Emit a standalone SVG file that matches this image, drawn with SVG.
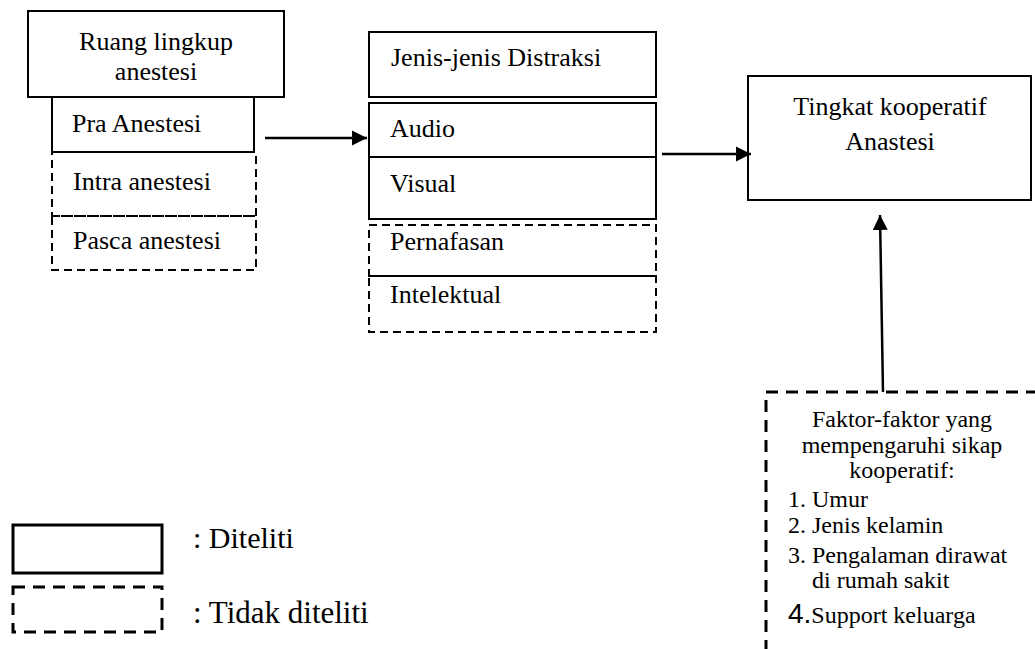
<svg xmlns="http://www.w3.org/2000/svg" width="1035" height="649" viewBox="0 0 1035 649">
<defs>
<style>
.t{font-family:"Liberation Serif","Times New Roman",serif;font-size:26px;fill:#000}
.s{font-family:"Liberation Serif","Times New Roman",serif;font-size:24px;fill:#000}
.solid{fill:#fff;stroke:#000;stroke-width:2}
.dash{fill:none;stroke:#000;stroke-width:2;stroke-dasharray:8 5}
.dash3{fill:none;stroke:#000;stroke-width:3;stroke-dasharray:12 8}
.conn{stroke:#000;stroke-width:2.5;fill:none}
</style>
<marker id="ah" markerWidth="16" markerHeight="16" refX="15" refY="8" orient="auto" markerUnits="userSpaceOnUse">
<path d="M0,0.5 L15,8 L0,15.5 Z" fill="#000"/>
</marker>
</defs>
<rect width="1035" height="649" fill="#fff"/>

<g id="ruang-lingkup">
<rect class="solid" x="28" y="11" width="256" height="86"/>
<text class="t" x="156" y="50" text-anchor="middle">Ruang lingkup</text>
<text class="t" x="156" y="80" text-anchor="middle">anestesi</text>
</g>
<g id="pra-anestesi">
<rect class="solid" x="52" y="97" width="202" height="55"/>
<text class="t" x="72" y="132">Pra Anestesi</text>
</g>
<g id="intra-anestesi">
<rect class="dash" x="52" y="152" width="204" height="64"/>
<text class="t" x="73" y="190">Intra anestesi</text>
</g>
<g id="pasca-anestesi">
<rect class="dash" x="52" y="216" width="204" height="54"/>
<text class="t" x="73" y="249">Pasca anestesi</text>
</g>

<g id="jenis-distraksi">
<rect class="solid" x="369" y="32" width="287" height="65"/>
<text class="t" x="391" y="66">Jenis-jenis Distraksi</text>
</g>
<g id="audio-visual">
<rect class="solid" x="369" y="103" width="287" height="116"/>
<line x1="369" y1="157" x2="656" y2="157" stroke="#000" stroke-width="2"/>
<text class="t" x="390" y="137">Audio</text>
<text class="t" x="390" y="192">Visual</text>
</g>
<g id="pernafasan">
<rect class="dash" x="369" y="225" width="287" height="51"/>
<text class="t" x="390" y="250">Pernafasan</text>
</g>
<g id="intelektual">
<rect class="dash" x="369" y="276" width="287" height="56"/>
<text class="t" x="390" y="303">Intelektual</text>
</g>

<g id="tingkat-kooperatif">
<rect class="solid" x="748" y="76" width="283" height="124"/>
<text class="t" x="890" y="115" text-anchor="middle">Tingkat kooperatif</text>
<text class="t" x="890" y="150" text-anchor="middle">Anastesi</text>
</g>

<g id="faktor">
<rect class="dash3" x="766" y="392" width="300" height="300"/>
<text class="s" x="902" y="427" text-anchor="middle">Faktor-faktor yang</text>
<text class="s" x="902" y="453" text-anchor="middle">mempengaruhi sikap</text>
<text class="s" x="902" y="478" text-anchor="middle">kooperatif:</text>
<text class="s" x="788" y="507">1. Umur</text>
<text class="s" x="788" y="533">2. Jenis kelamin</text>
<text class="s" x="788" y="563">3. Pengalaman dirawat</text>
<text class="s" x="812" y="588">di rumah sakit</text>
<text class="s" x="788" y="623"><tspan font-family="'Liberation Sans',Arial,sans-serif" font-size="28">4.</tspan>Support keluarga</text>
</g>

<g id="connectors">
<line class="conn" x1="265" y1="138" x2="367" y2="138" marker-end="url(#ah)"/>
<line class="conn" x1="662" y1="154" x2="751" y2="154" marker-end="url(#ah)"/>
<line class="conn" x1="883" y1="392" x2="880" y2="215" marker-end="url(#ah)"/>
</g>

<g id="legend-diteliti">
<rect x="13" y="525" width="149" height="48" fill="none" stroke="#000" stroke-width="3"/>
<text x="193" y="548" font-family="'Liberation Serif','Times New Roman',serif" font-size="30">: Diteliti</text>
</g>
<g id="legend-tidak">
<rect class="dash3" x="13" y="587" width="149" height="45"/>
<text x="193" y="623" font-family="'Liberation Serif','Times New Roman',serif" font-size="31">: Tidak diteliti</text>
</g>
</svg>
